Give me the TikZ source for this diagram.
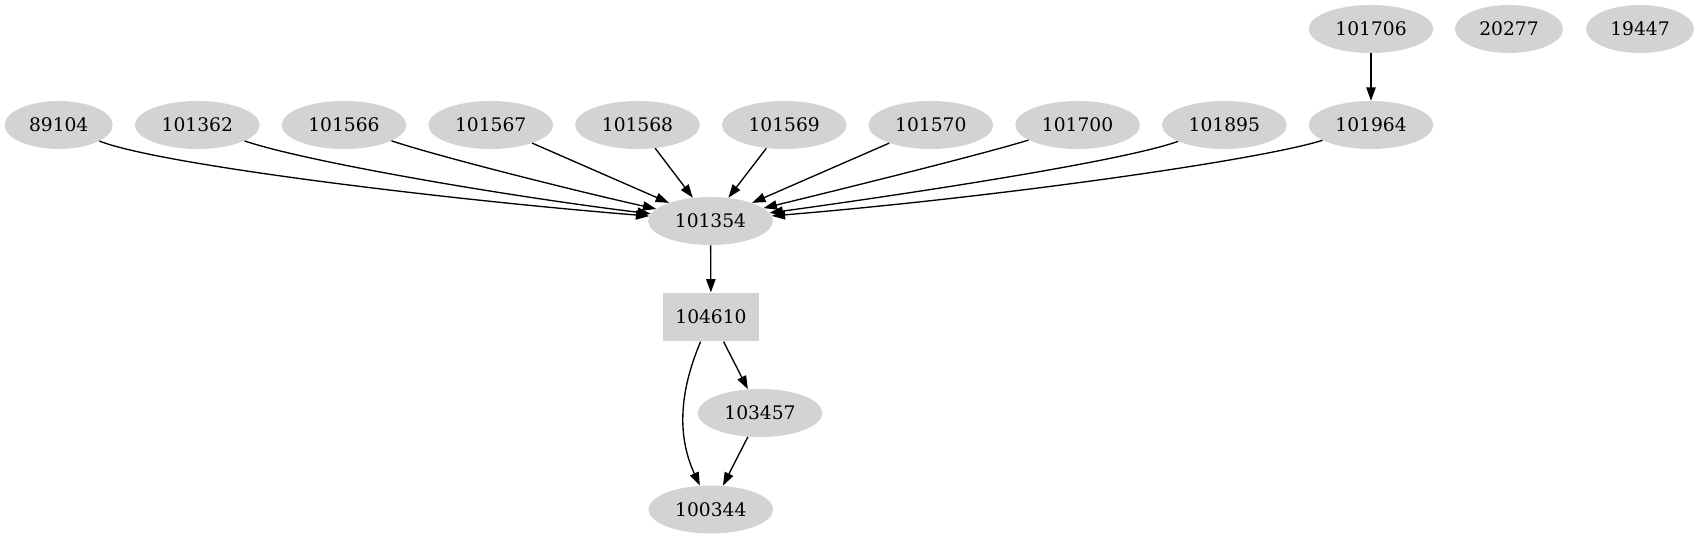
\documentclass[tikz,border=0pt]{standalone}
\usepackage{fontspec}
\setmainfont{DejaVu Serif}
\usetikzlibrary{shapes.geometric,arrows.meta}
\definecolor{nodegray}{HTML}{D3D3D3}
\tikzset{
  gnode/.style={ellipse, fill=nodegray, draw=none, inner sep=0pt,
    minimum width=93.5pt, minimum height=36pt,
    font=\fontsize{14pt}{16pt}\selectfont},
  gsmall/.style={gnode, minimum width=81pt},
  gbox/.style={rectangle, fill=nodegray, draw=none, inner sep=0pt,
    minimum width=71.5pt, minimum height=36.5pt,
    font=\fontsize{14pt}{16pt}\selectfont},
  gedge/.style={draw=black, line width=1pt,
    -{Triangle[length=10pt,width=7pt]}}
}
\begin{document}
\begin{tikzpicture}[x=0.75pt,y=-0.75pt]
\useasboundingbox (0,0) rectangle (1701,539);
% top rank
\node[gnode]  (n101706) at (1371,29) {101706};
\node[gsmall] (n20277)  at (1509,29) {20277};
\node[gsmall] (n19447)  at (1640,29) {19447};
% second rank
\node[gsmall] (n89104)  at (58.7,125) {89104};
\node[gnode]  (n101362) at (197.3,125) {101362};
\node[gnode]  (n101566) at (344,125) {101566};
\node[gnode]  (n101567) at (490.7,125) {101567};
\node[gnode]  (n101568) at (637.5,125) {101568};
\node[gnode]  (n101569) at (784.2,125) {101569};
\node[gnode]  (n101570) at (930.8,125) {101570};
\node[gnode]  (n101700) at (1077.6,125) {101700};
\node[gnode]  (n101895) at (1224.3,125) {101895};
\node[gnode]  (n101964) at (1371,125) {101964};
% lower ranks
\node[gnode]  (n101354) at (710.5,221) {101354};
\node[gbox]   (n104610) at (711,317) {104610};
\node[gnode]  (n103457) at (760,413) {103457};
\node[gnode]  (n100344) at (710.8,509.5) {100344};
% edges
\draw[gedge] (n101706) -- (n101964);
\draw[gedge] (n89104) .. controls (160,165) and (450,200) .. (n101354);
\draw[gedge] (n101362) .. controls (310,163) and (520,198) .. (n101354);
\draw[gedge] (n101566) .. controls (440,157) and (580,192) .. (n101354);
\draw[gedge] (n101567) -- (n101354);
\draw[gedge] (n101568) -- (n101354);
\draw[gedge] (n101569) -- (n101354);
\draw[gedge] (n101570) -- (n101354);
\draw[gedge] (n101700) .. controls (980,155) and (830,192) .. (n101354);
\draw[gedge] (n101895) .. controls (1120,162) and (900,195) .. (n101354);
\draw[gedge] (n101964) .. controls (1260,160) and (1000,197) .. (n101354);
\draw[gedge] (n101354) -- (n104610);
\draw[gedge] (n104610) -- (n103457);
\draw[gedge] (n104610) .. controls (678,395) and (678,438) .. (n100344);
\draw[gedge] (n103457) -- (n100344);
\end{tikzpicture}
\end{document}
